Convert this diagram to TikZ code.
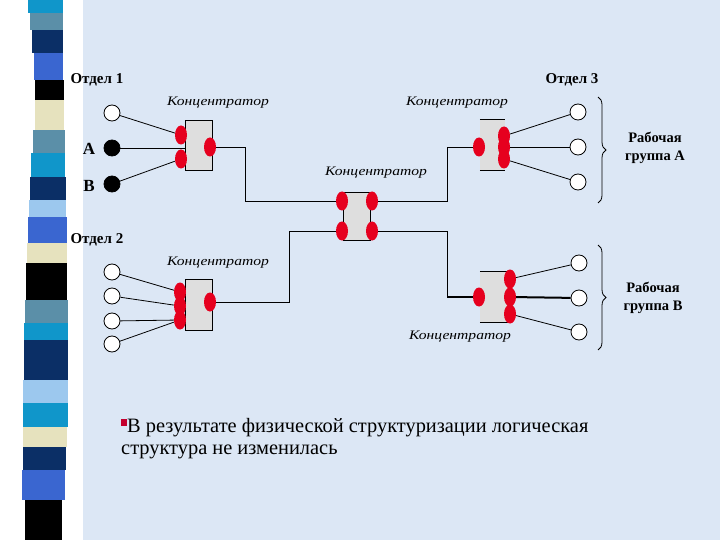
\documentclass[tikz,border=0pt]{standalone}
\usepackage{fontspec}
\setmainfont{Liberation Serif}
\newfontfamily\hubfont[FakeStretch=1.2]{Liberation Serif}
\usetikzlibrary{shapes.geometric,decorations.pathreplacing}
\definecolor{bgblue}{HTML}{DCE7F5}
\definecolor{portred}{HTML}{E6001E}
\definecolor{hubgray}{HTML}{DEDEDE}
\definecolor{bulred}{HTML}{C4002E}
\definecolor{sTeal}{HTML}{1096CA}
\definecolor{sGrey}{HTML}{5B8FA8}
\definecolor{sNavy}{HTML}{0B2F66}
\definecolor{sRoyal}{HTML}{3A66D0}
\definecolor{sBeige}{HTML}{E6E2BE}
\definecolor{sLight}{HTML}{9CC8EE}

\begin{document}
\begin{tikzpicture}
[x=1pt,y=-1pt
,pc/.style={circle,draw,line width=0.8pt,fill=white,minimum size=16pt,inner sep=0pt}
,pcb/.style={pc,fill=black}
,port/.style={ellipse,fill=portred,minimum width=12pt,minimum height=19pt,inner sep=0pt}
,hub/.style={rectangle,fill=hubgray,draw,line width=0.8pt,inner sep=0pt}
,hubo/.style={rectangle,fill=hubgray,inner sep=0pt}
,link/.style={line width=0.8pt}
,tlink/.style={line width=2pt}
,hublbl/.style={font=\hubfont\itshape\fontsize{13}{15}\selectfont}
,dept/.style={font=\bfseries\fontsize{15}{17}\selectfont}
,grp/.style={font=\bfseries\fontsize{14.5}{18}\selectfont,align=center}
,brc/.style={decorate,decoration={brace,amplitude=8pt},line width=0.8pt}]
\useasboundingbox (0,0) rectangle (720,540);
% background and stripe
\fill[white] (0,0) rectangle (720,540);
\fill[bgblue] (83,0) rectangle (720,540);
\foreach \ya/\yb/\c/\xa/\xb in {0/13/sTeal/28/63, 13/30/sGrey/30/63, 30/53/sNavy/32/63,
  53/80/sRoyal/34/63, 80/100/black/35/64, 100/130/sBeige/35/64, 130/153/sGrey/33/65,
  153/177/sTeal/31/65, 177/200/sNavy/30/66, 200/217/sLight/29/66, 217/243/sRoyal/28/67,
  243/263/sBeige/27/67, 263/300/black/26/67, 300/323/sGrey/25/68, 323/340/sTeal/24/68,
  340/380/sNavy/24/68, 380/403/sLight/23/68, 403/427/sTeal/23/68, 427/447/sBeige/23/67,
  447/470/sNavy/23/66, 470/500/sRoyal/22/65, 500/540/black/25/62}
  \fill[\c] (\xa,\ya) rectangle (\xb,\yb);

% departments
\node[dept,anchor=west] (d1) at (67,80) {Отдел 1};
\node[dept,anchor=east] (d3) at (602,80) {Отдел 3};
\node[dept,anchor=west] (d2) at (67,240) {Отдел 2};

% hubs
\node[hub,minimum width=27pt,minimum height=50pt] (h1) at (198.5,145) {};
\node[hub,minimum width=27pt,minimum height=48pt] (h0) at (356.5,216) {};
\node[hub,minimum width=27pt,minimum height=51pt] (h2) at (198.5,304.5) {};
\node[hubo,minimum width=25pt,minimum height=50pt] (hA) at (492.5,145) {};
\node[hubo,minimum width=30pt,minimum height=50pt] (hB) at (495,297) {};
\draw[link] (hA.north west) -- (hA.north east) (hA.south west) -- (hA.south east);
\draw[link] (hB.north west) -- (hB.north east) (hB.south west) -- (hB.south east);

\node[hublbl] (l1) at (218,103) {Концентратор};
\node[hublbl] (lA) at (457,103) {Концентратор};
\node[hublbl] (l0) at (376,173) {Концентратор};
\node[hublbl] (l2) at (218,263) {Концентратор};
\node[hublbl] (lB) at (460,337) {Концентратор};

% ports
\node[port] (h1a) at (181,135) {};
\node[port] (h1b) at (181,159) {};
\node[port] (h1o) at (210,147) {};
\node[port] (h0a) at (342,201) {};
\node[port] (h0b) at (342,231) {};
\node[port] (h0c) at (372,201) {};
\node[port] (h0d) at (372,231) {};
\node[port] (hAi) at (479,147) {};
\node[port] (hA1) at (504,136) {};
\node[port] (hA2) at (504,147) {};
\node[port] (hA3) at (504,159) {};
\node[port] (hBi) at (479,297) {};
\node[port] (hB1) at (510,279) {};
\node[port] (hB2) at (510,297) {};
\node[port] (hB3) at (510,314) {};
\node[port] (h2o) at (210,302) {};
\node[port] (h2a) at (180,292) {};
\node[port] (h2b) at (180,306) {};
\node[port] (h2c) at (180,320) {};

% computers
\node[pc] (c1) at (112,113) {};
\node[pcb] (ca) at (112,148) {};
\node[pcb] (cb) at (112,184) {};
\node[font=\bfseries\fontsize{17}{17}\selectfont] (la) at (89,149) {А};
\node[font=\bfseries\fontsize{17}{17}\selectfont] (lb) at (89,186) {В};
\node[pc] (c21) at (112,272) {};
\node[pc] (c22) at (112,296) {};
\node[pc] (c23) at (112,321) {};
\node[pc] (c24) at (112,344) {};
\node[pc] (cA1) at (578,112) {};
\node[pc] (cA2) at (578,147) {};
\node[pc] (cA3) at (578,182) {};
\node[pc] (cB1) at (579,263) {};
\node[pc] (cB2) at (579,298) {};
\node[pc] (cB3) at (579,332) {};

% cables
\coordinate (k1) at (245,200);
\coordinate (k2) at (447,170);
\coordinate (k3) at (447,260);
\coordinate (k4) at (289,260);
\draw[link] (c1) -- (h1a);
\draw[link] (ca) -- (ca -| h1.west);
\draw[link] (cb) -- (h1b);
\draw[link] (h1o) -- (h1o -| k1) |- (h0a);
\draw[link] (h0c) -- (h0c -| k2) |- (hAi);
\draw[link] (h0d) -- (h0d -| k3) -- (k3 |- hBi);
\draw[tlink] (k3 |- hBi) -- (hBi);
\draw[link] (h0b) -- (h0b -| k4) |- (h2o);
\draw[link] (hA1) -- (cA1);
\draw[link] (hA2) -- (cA2);
\draw[link] (hA3) -- (cA3);
\draw[link] (hB1) -- (cB1);
\draw[tlink] (hB2) -- (cB2);
\draw[link] (hB3) -- (cB3);
\draw[link] (c21) -- (h2a);
\draw[link] (c22) -- (h2b);
\draw[link] (c23) -- (h2c);
\draw[link] (c24) -- (h2c);

% work groups
\coordinate (bA1) at (598,97);
\coordinate (bA2) at (598,203);
\coordinate (bB1) at (598,245);
\coordinate (bB2) at (598,350);
\draw[brc] (bA1) -- (bA2);
\draw[brc] (bB1) -- (bB2);
\node[grp] (gA) at (655,148) {Рабочая\\группа А};
\node[grp] (gB) at (653,298) {Рабочая\\группа В};

% note
\node[anchor=north west,inner sep=0pt,align=left,font=\fontsize{20.4}{22}\selectfont] (note) at (121,418)
  {\textcolor{bulred}{\rule[6pt]{6pt}{7pt}}В результате физической структуризации логическая\\структура не изменилась};
\end{tikzpicture}
\end{document}
